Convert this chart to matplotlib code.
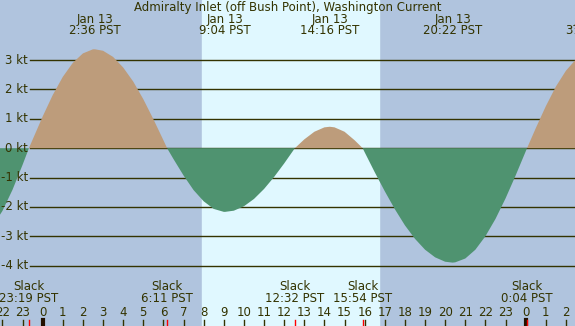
import matplotlib.pyplot as plt

# current speed readings (kt) by hour from midnight Jan 13, slack points included
hours = [-2.5, -2.0, -1.5, -1.0, -0.683, -0.5, 0.0, 0.5, 1.0, 1.5, 2.0, 2.5, 2.6,
         3.0, 3.5, 4.0, 4.5, 5.0, 5.5, 6.0, 6.183, 6.5, 7.0, 7.5, 8.0, 8.5, 9.0, 9.067,
         9.5, 10.0, 10.5, 11.0, 11.5, 12.0, 12.5, 12.533, 13.0, 13.5, 14.0, 14.267,
         14.5, 15.0, 15.5, 15.9, 16.0, 16.5, 17.0, 17.5, 18.0, 18.5, 19.0, 19.5, 20.0,
         20.367, 20.5, 21.0, 21.5, 22.0, 22.5, 23.0, 23.5, 24.0, 24.067, 24.5, 25.0,
         25.5, 26.0, 26.5, 27.0]
speeds = [-2.67, -2.14, -1.42, -0.57, 0.0, 0.29, 1.08, 1.81, 2.43, 2.91, 3.23, 3.37, 3.37,
          3.32, 3.11, 2.75, 2.27, 1.67, 0.99, 0.27, 0.0, -0.37, -0.93, -1.43, -1.81, -2.07, -2.17, -2.17,
          -2.13, -1.98, -1.73, -1.39, -0.98, -0.52, -0.03, 0.0, 0.30, 0.56, 0.71, 0.73,
          0.71, 0.56, 0.27, 0.0, -0.14, -0.82, -1.47, -2.08, -2.63, -3.09, -3.46, -3.72, -3.87,
          -3.90, -3.89, -3.76, -3.46, -3.00, -2.41, -1.71, -0.93, -0.11, 0.0, 0.68, 1.43,
          2.10, 2.64, 3.03, 3.24]

# max current events
max_hours = [2.6, 9.067, 14.267, 20.367, 27.3]
max_dates = ['Jan 13', 'Jan 13', 'Jan 13', 'Jan 13', 'Jan 14']
max_labels = ['2:36 PST', '9:04 PST', '14:16 PST', '20:22 PST', '3:18 PST']

# slack events
slack_hours = [-0.683, 6.183, 12.533, 15.9, 24.067]
slack_labels = ['23:19 PST', '6:11 PST', '12:32 PST', '15:54 PST', '0:04 PST']

sunrise, sunset = 7.93, 16.71
kt_levels = [3, 2, 1, 0, -1, -2, -3, -4]
hour_ticks = list(range(-2, 27))

c_night = '#b0c4de'
c_day = '#e0f8ff'
c_flood = '#bd9c7b'
c_ebb = '#4f9370'
c_text = '#333300'

W, H = 575, 326
fig = plt.figure(figsize=(W / 100, H / 100), dpi=100)
ax = fig.add_axes([0, 0, 1, 1])
ax.set_xlim(-2.12, 26.45)
ax.set_ylim(-6.06, 5.05)
ax.axis('off')
ax.add_patch(plt.Rectangle((0, 0), 1, 1, transform=ax.transAxes, color=c_night, zorder=0))
ax.axvspan(sunrise, sunset, color=c_day, zorder=1)

def fy(py):
    return 1 - py / H

# grid lines with labels
ytr = ax.get_yaxis_transform()
for k in kt_levels:
    ax.plot([30 / W, 1], [k, k], transform=ytr, color=c_text, lw=1, zorder=2)
    ax.text(28 / W, k, f'{k} kt', transform=ytr, ha='right', va='center',
            fontsize=8.5, color=c_text, zorder=5)

ax.fill_between(hours, speeds, 0, where=[s >= 0 for s in speeds], interpolate=True,
                color=c_flood, lw=0, zorder=3)
ax.fill_between(hours, speeds, 0, where=[s <= 0 for s in speeds], interpolate=True,
                color=c_ebb, lw=0, zorder=3)

xtr = ax.get_xaxis_transform()
ax.text(0.5, fy(7), 'Admiralty Inlet (off Bush Point), Washington Current',
        transform=ax.transAxes, ha='center', va='center', fontsize=8.5, color=c_text)
for h, d, t in zip(max_hours, max_dates, max_labels):
    ax.text(h, fy(19), d, transform=xtr, ha='center', va='center', fontsize=8.5, color=c_text)
    ax.text(h, fy(31), t, transform=xtr, ha='center', va='center', fontsize=8.5, color=c_text)

for h, t in zip(slack_hours, slack_labels):
    ax.text(h, fy(287), 'Slack', transform=xtr, ha='center', va='center', fontsize=8.5, color=c_text)
    ax.text(h, fy(299), t, transform=xtr, ha='center', va='center', fontsize=8.5, color=c_text)

for h in hour_ticks:
    ax.text(h, fy(312), str(h % 24), transform=xtr, ha='center', va='center',
            fontsize=8.5, color=c_text)
    if h % 24 == 0:
        ax.plot([h, h], [0, fy(320)], transform=xtr, color='#221100', lw=3, zorder=4)
    else:
        ax.plot([h, h], [0, fy(320)], transform=xtr, color=c_text, lw=1, zorder=4)
for h in slack_hours:
    ax.plot([h, h], [0, fy(320)], transform=xtr, color='red', lw=1, zorder=5)

fig.savefig('out.png', dpi=100, facecolor=c_night)
